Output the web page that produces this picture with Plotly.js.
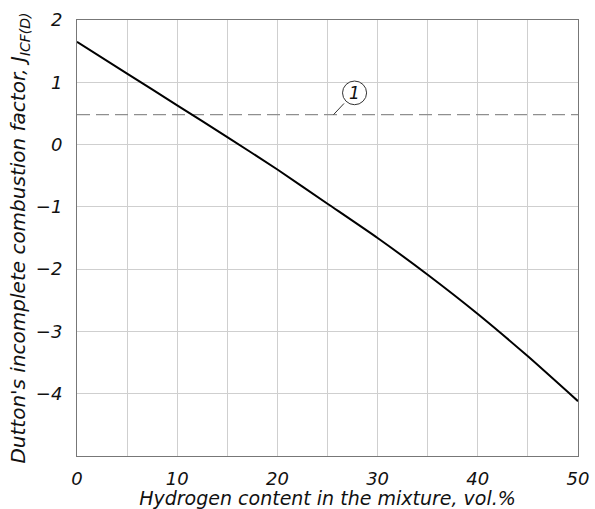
<!DOCTYPE html>
<html>
<head>
<meta charset="utf-8">
<script src="https://cdn.plot.ly/plotly-3.0.1.min.js"></script>
<style>html,body{margin:0;padding:0;background:#fff;}#chart{width:595px;height:509px;}</style>
</head>
<body>
<div id="chart"></div>
<script>
const hydrogen = [0, 5, 10, 15, 20, 25, 30, 35, 40, 45, 50];
const duttonFactor = [1.65, 1.14, 0.63, 0.12, -0.40, -0.95, -1.50, -2.09, -2.72, -3.40, -4.12];
const limitX = [0, 50];
const limitY = [0.48, 0.48];
const xTicks = [0, 10, 20, 30, 40, 50];
const yTicks = [-4, -3, -2, -1, 0, 1, 2];
const calloutLabel = "1";

const FONT = "DejaVu Sans, sans-serif";

const traces = [
  {
    x: limitX, y: limitY, mode: "lines", type: "scatter",
    line: {color: "#8f8f8f", width: 1.3, dash: "13px,6px"},
    hoverinfo: "skip", showlegend: false
  },
  {
    x: hydrogen, y: duttonFactor, mode: "lines", type: "scatter",
    line: {color: "#000", width: 2, shape: "spline", smoothing: 0.5},
    showlegend: false
  }
];

// callout circle position (data units)
const cx = 27.7, cy = 0.83, rx = 1.2, ry = 0.19;

const layout = {
  width: 595, height: 509,
  margin: {l: 76.5, r: 17.3, t: 20, b: 53.3},
  paper_bgcolor: "#fff", plot_bgcolor: "#fff",
  font: {family: FONT, color: "#111", style: "italic"},
  xaxis: {
    range: [0, 50], tickvals: xTicks, ticktext: xTicks.map(String),
    showgrid: true, gridcolor: "#cfcfcf", gridwidth: 1,
    minor: {dtick: 5, showgrid: true, gridcolor: "#cfcfcf", gridwidth: 1},
    zeroline: false, showline: true, linecolor: "#777", linewidth: 1, mirror: true,
    ticks: "", ticklabelstandoff: 6,
    tickfont: {size: 18, family: FONT, style: "italic"},
    title: {text: "Hydrogen content in the mixture, vol.%", font: {size: 19, family: FONT, style: "italic"}, standoff: 0}
  },
  yaxis: {
    range: [-5, 2], tickvals: yTicks, ticktext: yTicks.map(v => v < 0 ? "\u2212" + Math.abs(v) : String(v)),
    showgrid: true, gridcolor: "#cfcfcf", gridwidth: 1,
    zeroline: false, showline: true, linecolor: "#777", linewidth: 1, mirror: true,
    ticks: "", ticklabelstandoff: 10,
    tickfont: {size: 18, family: FONT, style: "italic"},
    title: {text: "Dutton's incomplete combustion factor, J<sub>ICF(D)</sub>", font: {size: 20, family: FONT, style: "italic"}, standoff: 4}
  },
  shapes: [
    {type: "circle", xref: "x", yref: "y", x0: cx - rx, x1: cx + rx, y0: cy - ry, y1: cy + ry,
     line: {color: "#333", width: 1}, fillcolor: "rgba(255,255,255,1)"},
    {type: "line", xref: "x", yref: "y", x0: 25.6, y0: limitY[0], x1: 26.65, y1: 0.66,
     line: {color: "#333", width: 1}}
  ],
  annotations: [
    {x: cx, y: cy, xref: "x", yref: "y", text: calloutLabel, showarrow: false,
     font: {size: 17, family: FONT, style: "italic", color: "#111"}}
  ]
};

Plotly.newPlot("chart", traces, layout, {displayModeBar: false, staticPlot: true});
</script>
</body>
</html>
